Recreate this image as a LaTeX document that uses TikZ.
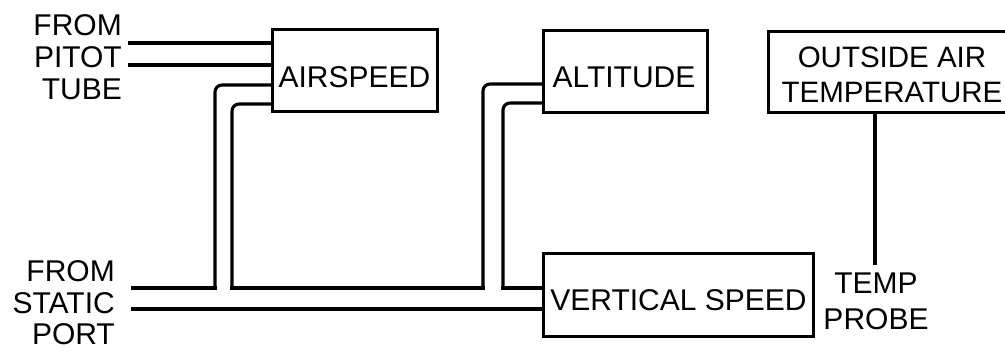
\documentclass[tikz,border=0pt]{standalone}
\usepackage{fontspec}
\setmainfont{Liberation Sans}
\begin{document}
\begin{tikzpicture}[x=1pt,y=-1pt,
  inst/.style={draw,line width=3pt,inner sep=0pt,outer sep=0pt},
  lbl/.style={inner sep=0pt,font=\fontsize{30}{32}\selectfont},
  pipe/.style={line width=3.1pt,line cap=rect},
  bendpipe/.style={pipe,rounded corners=7pt}]
\useasboundingbox (0,0) rectangle (1005,352);
% instruments
\node[inst,minimum width=165pt,minimum height=82pt] (air) at (354.5,71) {};
\node[inst,minimum width=164pt,minimum height=82pt] (alt) at (625,72) {};
\node[inst,minimum width=270pt,minimum height=83pt] (vsi) at (678,295.5) {};
\node[inst,minimum width=239pt,minimum height=81pt] (oat) at (887.5,72.5) {};
% labels
\node[lbl] (airT) at (354.5,77) {AIRSPEED};
\node[lbl] (altT) at (624,77) {ALTITUDE};
\node[lbl] (vsiT) at (678.5,300) {VERTICAL SPEED};
\node[lbl,align=center,font=\fontsize{29.5}{35}\selectfont] (oatT) at (892,75) {OUTSIDE AIR\\TEMPERATURE};
\node[lbl,align=right,anchor=east] (pitotT) at (122,57.5) {FROM\\PITOT\\TUBE};
\node[lbl,align=right,anchor=east,font=\fontsize{30}{31.5}\selectfont] (staticT) at (115,303) {FROM\\STATIC\\PORT};
\node[lbl,align=center,font=\fontsize{30}{36}\selectfont] (probeT) at (876,301.5) {TEMP\\PROBE};
% free ends and junctions
\coordinate (pitotA) at (130,43);
\coordinate (pitotB) at (130,65);
\coordinate (staticA) at (133,288);
\coordinate (staticB) at (133,309);
\coordinate (jA) at (215,288);
\coordinate (jB1) at (232,288);
\coordinate (jB2) at (483,288);
\coordinate (jC) at (503,288);
\coordinate (probe) at (875,263);
% pitot lines
\draw[pipe] (pitotA) -- (air.west |- pitotA);
\draw[pipe] (pitotB) -- (air.west |- pitotB);
% static lines
\draw[pipe] (staticA) -- (jA);
\draw[bendpipe] (air.west |- 0,85) -| (jA);
\draw[pipe] (staticB) -- (vsi.west |- staticB);
\draw[bendpipe] (air.west |- 0,104) -| (jB1);
\draw[pipe] (jB1) -- (jB2);
\draw[bendpipe] (jB2) |- (alt.west |- 0,84);
\draw[bendpipe] (alt.west |- 0,103) -| (jC);
\draw[pipe] (jC) -- (vsi.west |- jC);
% temperature probe
\draw[pipe] (oat.south -| probe) -- (probe);
\end{tikzpicture}
\end{document}
